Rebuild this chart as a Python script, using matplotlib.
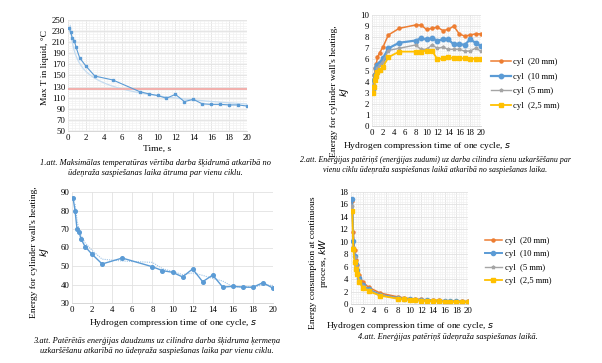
import matplotlib.pyplot as plt
import numpy as np
from matplotlib.ticker import MultipleLocator

plt.rcParams["font.family"] = ["Liberation Serif", "DejaVu Serif"]

# x values (compression time of one cycle, s)
t_a = [0.1, 0.3, 0.5, 0.7, 0.9, 1.3, 2, 3, 5, 8, 9, 10, 11, 12, 13, 14, 15, 16, 17, 18, 19, 20]
t_b = [0.2, 0.4, 0.6, 0.8, 1.0, 1.4, 2, 3, 5, 8, 9, 10, 11, 12, 13, 14, 15, 16, 17, 18, 19, 20]

# Fig. 1: max T in liquid
max_t = [236, 228, 217, 213, 201, 182, 167, 149, 142, 121, 117, 114, 109, 116, 103, 107,
         99, 98, 98, 97, 97, 95]
t_limit = 126
t_ticks = [50, 70, 90, 110, 130, 150, 170, 190, 210, 230, 250]

# Fig. 2: energy for cylinder wall heating, kJ
labels = ["cyl  (20 mm)", "cyl  (10 mm)", "cyl  (5 mm)", "cyl  (2,5 mm)"]
e_20 = [3.4, 4.6, 5.2, 5.6, 6.2, 6.6, 7.1, 8.2, 8.8, 9.1, 9.1, 8.7, 8.8, 8.9, 8.6, 8.7,
        9.0, 8.3, 8.1, 8.2, 8.3, 8.3]
e_10 = [3.3, 4.1, 4.6, 5.2, 5.5, 5.7, 6.1, 7.0, 7.5, 7.7, 7.9, 7.8, 7.9, 7.7, 7.8, 7.8,
        7.35, 7.4, 7.3, 7.8, 7.5, 7.2]
e_5 = [3.15, 3.7, 4.5, 4.9, 5.2, 5.5, 5.8, 6.8, 7.0, 7.3, 6.9, 6.9, 7.3, 7.0, 7.1, 6.9,
       6.9, 6.9, 6.75, 6.75, 7.0, 6.75]
e_25 = [3.0, 3.5, 4.1, 4.5, 4.9, 5.0, 5.3, 6.2, 6.7, 6.7, 6.7, 6.8, 6.8, 6.0, 6.1, 6.2,
        6.1, 6.1, 6.1, 6.05, 6.05, 6.05]

# Fig. 3: energy for heating of working fluid, kJ
e_fluid = [87, 80, 70, 68.4, 64.6, 60.5, 56.3, 51.1, 54.3, 49.6, 47.5, 46.6, 44.1, 48.4,
           41.5, 45.1, 38.6, 39, 38.6, 38.5, 41, 38]

# Fig. 4: power at continuous process, kW
p_20 = [16.6, 11.6, 8.7, 7.0, 6.2, 4.7, 3.55, 2.7, 1.75, 1.15, 1.0, 0.87, 0.8, 0.74, 0.66,
        0.62, 0.6, 0.52, 0.48, 0.46, 0.44, 0.42]
p_10 = [16.9, 10.2, 7.7, 6.5, 5.5, 4.1, 3.05, 2.35, 1.5, 0.96, 0.88, 0.78, 0.72, 0.64,
        0.6, 0.56, 0.49, 0.46, 0.43, 0.43, 0.39, 0.36]
p_5 = [15.7, 9.2, 7.5, 6.1, 5.2, 3.9, 2.9, 2.25, 1.4, 0.91, 0.77, 0.69, 0.66, 0.58, 0.55,
       0.49, 0.46, 0.43, 0.4, 0.38, 0.37, 0.34]
p_25 = [15.0, 8.8, 6.8, 5.6, 4.9, 3.6, 2.65, 2.05, 1.35, 0.84, 0.74, 0.68, 0.62, 0.5, 0.47,
        0.44, 0.41, 0.38, 0.36, 0.34, 0.32, 0.3]

W, H = 602, 363
C_BLUE, C_ORANGE, C_GREY, C_YELLOW = "#5B9BD5", "#ED7D31", "#A5A5A5", "#FFC000"
TICK_FS, LAB_FS, CAP_FS = 6.3, 6.8, 6.0

fig = plt.figure(figsize=(W / 100, H / 100), dpi=100)


def px_axes(l, t, r, b):
    return fig.add_axes([l / W, 1 - b / H, (r - l) / W, (b - t) / H])


def style(ax, xminor=None, yminor=None):
    for s in ax.spines.values():
        s.set_visible(False)
    ax.spines["bottom"].set_visible(True)
    ax.spines["bottom"].set_color("#D0D0D0")
    ax.spines["bottom"].set_linewidth(0.6)
    ax.tick_params(length=0, labelsize=TICK_FS, pad=2)
    ax.xaxis.set_major_locator(MultipleLocator(2))
    ax.grid(True, which="major", color="#E2E2E2", linewidth=0.6)
    if xminor:
        ax.xaxis.set_minor_locator(MultipleLocator(xminor))
        ax.yaxis.set_minor_locator(MultipleLocator(yminor))
        ax.grid(True, which="minor", color="#F1F1F1", linewidth=0.5)
        ax.tick_params(which="minor", length=0)
    ax.set_axisbelow(True)


def caption(x, y, lines, size=CAP_FS):
    for i, s in enumerate(lines):
        fig.text(x / W, 1 - (y + i * 10) / H, s, ha="center", va="center",
                 fontsize=size, style="italic")


# ---- Fig. 1
ax1 = px_axes(68, 20, 247, 131)
style(ax1, 0.4, 4)
ax1.set_xlim(0, 20)
ax1.set_ylim(50, 250)
ax1.set_yticks(t_ticks)
xs = np.array(t_a)
coef = np.polyfit(np.log(xs), np.log(max_t), 1)
xf = np.linspace(0.25, 20, 200)
ax1.plot(xf, np.exp(coef[1]) * xf ** coef[0], color="#C5DCF0", linewidth=0.9)
ax1.axhline(t_limit, color="#F2A9A6", linewidth=1.3)
ax1.plot(t_a, max_t, color=C_BLUE, linewidth=0.8, marker="s", markersize=1.6)
ax1.set_ylabel("Max T in liquid, °C", fontsize=LAB_FS)
ax1.yaxis.set_label_coords(-0.106, 0.57)
ax1.set_xlabel("Time, s", fontsize=LAB_FS, labelpad=2)
caption(155, 163, ["1.att. Maksimālas temperatūras vērtība darba šķidrumā atkarībā no",
                   "ūdeņraža saspiešanas laika ātruma par vienu ciklu."])

# ---- Fig. 2
ax2 = px_axes(372, 15, 481, 126)
style(ax2, 0.4, 0.2)
ax2.set_xlim(0, 20)
ax2.set_ylim(0, 10)
ax2.yaxis.set_major_locator(MultipleLocator(1))
ax2.plot(t_b, e_20, color=C_ORANGE, linewidth=1.1, marker="o", markersize=2.2, label=labels[0])
ax2.plot(t_b, e_10, color=C_BLUE, linewidth=1.6, marker="o", markersize=3.2, label=labels[1])
ax2.plot(t_b, e_5, color=C_GREY, linewidth=1.0, marker="*", markersize=2.6, label=labels[2])
ax2.plot(t_b, e_25, color=C_YELLOW, linewidth=1.3, marker="s", markersize=2.2, label=labels[3])
ax2.set_ylabel("Energy for cylinder wall's heating,\n$kJ$", fontsize=LAB_FS, linespacing=1.0)
ax2.yaxis.set_label_coords(-0.193, 0.31)
ax2.set_xlabel("Hydrogen compression time of one cycle, $s$", fontsize=LAB_FS, labelpad=2)
ax2.legend(loc="center left", bbox_to_anchor=(483 / W, 1 - 84 / H),
           bbox_transform=fig.transFigure, frameon=False, fontsize=6.2,
           handlelength=2.3, labelspacing=0.75, handletextpad=0.3)
caption(435, 160, ["2.att. Enerģijas patēriņš (enerģijas zudumi) uz darba cilindra sienu uzkaršēšanu par",
                   "vienu ciklu ūdeņraža saspiešanas laikā atkarībā no saspiešanas laika."], 5.7)

# ---- Fig. 3
ax3 = px_axes(72, 192, 273, 303)
style(ax3)
ax3.set_xlim(0, 20)
ax3.set_ylim(30, 90)
ax3.yaxis.set_major_locator(MultipleLocator(10))
ma = np.convolve(e_fluid, [0.5, 0.5], mode="valid")
ax3.plot(t_a[1:], ma, color="#9DC3E6", linewidth=0.8, linestyle=(0, (1, 1)))
ax3.plot(t_a, e_fluid, color=C_BLUE, linewidth=1.0, marker="o", markersize=2.6)
ax3.set_ylabel("Energy for cylinder wall's heating,\n$kJ$", fontsize=LAB_FS, linespacing=1.0)
ax3.yaxis.set_label_coords(-0.104, 0.46)
ax3.set_xlabel("Hydrogen compression time of one cycle, $s$", fontsize=LAB_FS, labelpad=2)
caption(157, 341, ["3.att. Patērētās enerģijas daudzums uz cilindra darba šķidruma ķermeņa",
                   "uzkaršēšanu atkarībā no ūdeņraža saspiešanas laika par vienu ciklu."])

# ---- Fig. 4
ax4 = px_axes(351, 192, 468, 304)
style(ax4, 0.4, 0.4)
ax4.set_xlim(0, 20)
ax4.set_ylim(0, 18)
ax4.yaxis.set_major_locator(MultipleLocator(2))
ax4.plot(t_b, p_20, color=C_ORANGE, linewidth=1.1, marker="o", markersize=2.2, label=labels[0])
ax4.plot(t_b, p_10, color=C_BLUE, linewidth=1.4, marker="o", markersize=3.0, label=labels[1])
ax4.plot(t_b, p_5, color=C_GREY, linewidth=1.0, marker="*", markersize=2.6, label=labels[2])
ax4.plot(t_b, p_25, color=C_YELLOW, linewidth=1.3, marker="s", markersize=2.2, label=labels[3])
ax4.set_ylabel("Energy consumption at continuous\nprocess, $kW$", fontsize=LAB_FS,
               linespacing=1.0)
ax4.yaxis.set_label_coords(-0.18, 0.37)
ax4.set_xlabel("Hydrogen compression time of one cycle, $s$", fontsize=LAB_FS, labelpad=4)
ax4.legend(loc="center left", bbox_to_anchor=(477 / W, 1 - 261 / H),
           bbox_transform=fig.transFigure, frameon=False, fontsize=6.2,
           handlelength=2.0, labelspacing=0.65, handletextpad=0.3)
caption(448, 337, ["4.att. Enerģijas patēriņš ūdeņraža saspiešanas laikā."])

fig.savefig("out.png", dpi=100, facecolor="white")
